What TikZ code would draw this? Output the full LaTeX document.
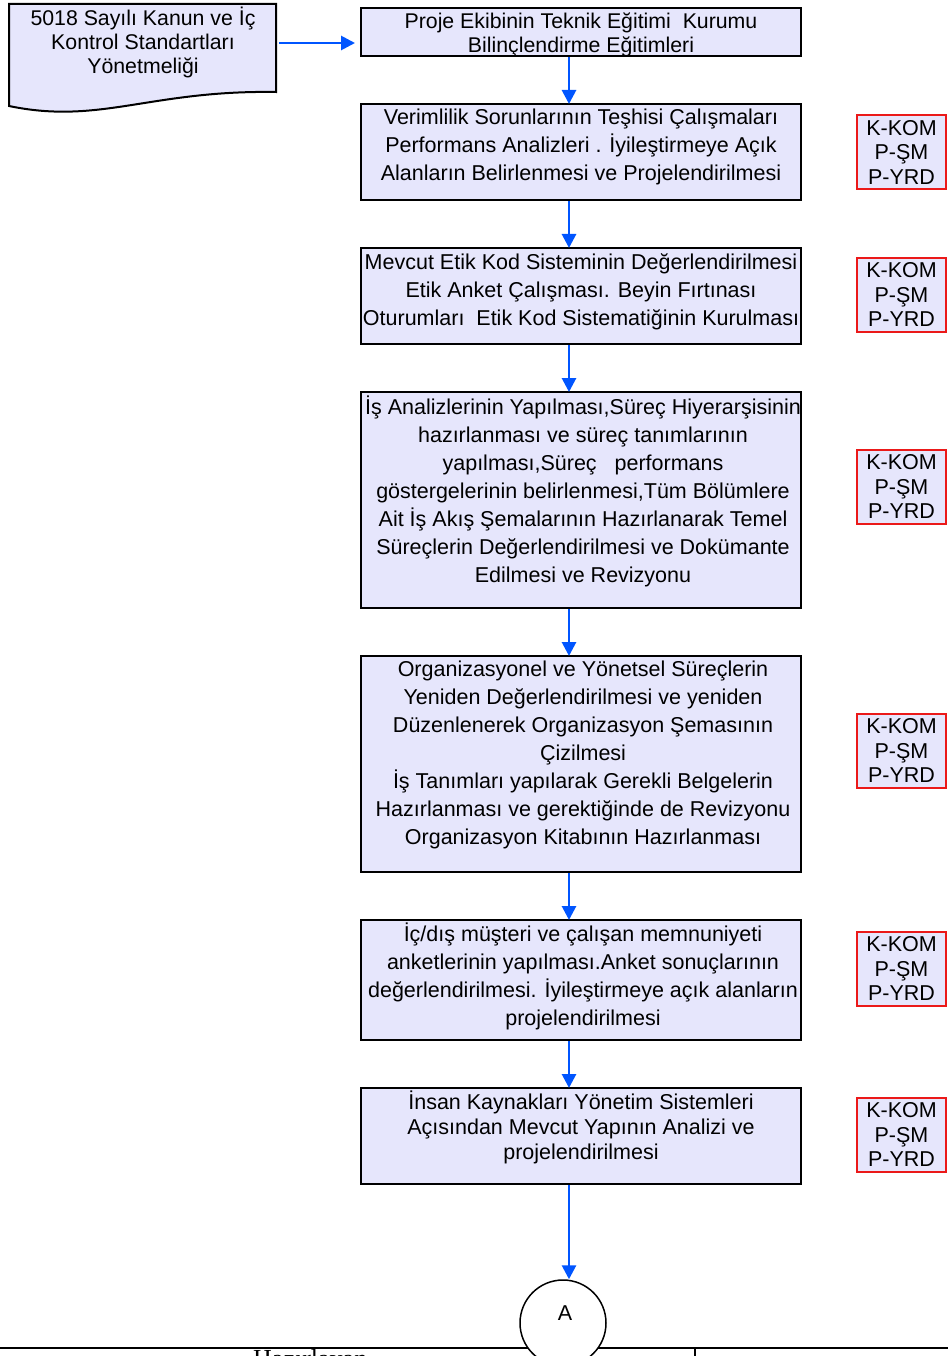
\documentclass[tikz,border=0pt]{standalone}
\usepackage{fontspec}
\setmainfont{Liberation Sans}
\newfontfamily\seriffont{Liberation Serif}
\usetikzlibrary{arrows.meta}
\definecolor{boxfill}{RGB}{230,230,252}
\definecolor{arrowblue}{RGB}{0,85,255}
\definecolor{tagred}{RGB}{235,25,25}
\begin{document}
\begin{tikzpicture}[x=1pt,y=-1pt,
 box/.style={draw=black,line width=2pt,fill=boxfill,minimum width=440pt,inner sep=0pt},
 txt/.style={align=center,font=\fontsize{21.5}{28}\selectfont,inner sep=0pt},
 tag/.style={draw=tagred,line width=2pt,fill=boxfill,minimum width=89pt,minimum height=74pt,inner sep=0pt,align=center,font=\fontsize{21.5}{24.5}\selectfont},
 flow/.style={draw=arrowblue,line width=2.8pt,-{Triangle[width=14pt,length=14pt]}}]
\useasboundingbox (0,0) rectangle (948,1356);
\coordinate (ax) at (569,0);
% document shape
\path[draw=black,line width=2pt,fill=boxfill] (9,4) -- (276,4) -- (276,92) .. controls (150,90) and (100,125) .. (9,106) -- cycle;
\node[txt,font=\fontsize{21.3}{24}\selectfont] (doc) at (143,42.5) {5018 Sayılı Kanun ve İç\\Kontrol Standartları\\Yönetmeliği};
\coordinate (docout) at (279,43);
% process boxes
\node[box,minimum height=48pt] (b1) at (581,32) {};
\node[box,minimum height=96pt] (b2) at (581,152) {};
\node[box,minimum height=96pt] (b3) at (581,296) {};
\node[box,minimum height=216pt] (b4) at (581,500) {};
\node[box,minimum height=216pt] (b5) at (581,764) {};
\node[box,minimum height=120pt] (b6) at (581,980) {};
\node[box,minimum height=96pt] (b7) at (581,1136) {};
\node[txt,font=\fontsize{21.3}{24}\selectfont] (t1) at (581,35) {Proje Ekibinin Teknik Eğitimi\ \ Kurumu\\Bilinçlendirme Eğitimleri};
\node[txt] (t2) at (581,147) {Verimlilik Sorunlarının Teşhisi Çalışmaları\\Performans Analizleri . İyileştirmeye Açık\\Alanların Belirlenmesi ve Projelendirilmesi};
\node[txt] (t3) at (581,291.5) {Mevcut Etik Kod Sisteminin Değerlendirilmesi\\Etik Anket Çalışması. Beyin Fırtınası\\Oturumları\ \ Etik Kod Sistematiğinin Kurulması};
\node[txt] (t4) at (583,491) {İş Analizlerinin Yapılması,Süreç Hiyerarşisinin\\hazırlanması ve süreç tanımlarının\\yapılması,Süreç\ \ \ performans\\göstergelerinin belirlenmesi,Tüm Bölümlere\\Ait İş Akış Şemalarının Hazırlanarak Temel\\Süreçlerin Değerlendirilmesi ve Dokümante\\Edilmesi ve Revizyonu};
\node[txt] (t5) at (583,755) {Organizasyonel ve Yönetsel Süreçlerin\\Yeniden Değerlendirilmesi ve yeniden\\Düzenlenerek Organizasyon Şemasının\\Çizilmesi\\İş Tanımları yapılarak Gerekli Belgelerin\\Hazırlanması ve gerektiğinde de Revizyonu\\Organizasyon Kitabının Hazırlanması};
\node[txt] (t6) at (583,976.5) {İç/dış müşteri ve çalışan memnuniyeti\\anketlerinin yapılması.Anket sonuçlarının\\değerlendirilmesi. İyileştirmeye açık alanların\\projelendirilmesi};
\node[txt,font=\fontsize{21.5}{25}\selectfont] (t7) at (581,1127) {İnsan Kaynakları Yönetim Sistemleri\\Açısından Mevcut Yapının Analizi ve\\projelendirilmesi};
% responsibility tags
\node[tag] (k1) at (901.5,152) {K-KOM\\P-ŞM\\P-YRD};
\node[tag] (k2) at (901.5,294.5) {K-KOM\\P-ŞM\\P-YRD};
\node[tag] (k3) at (901.5,486.5) {K-KOM\\P-ŞM\\P-YRD};
\node[tag] (k4) at (901.5,750.5) {K-KOM\\P-ŞM\\P-YRD};
\node[tag] (k5) at (901.5,968.5) {K-KOM\\P-ŞM\\P-YRD};
\node[tag] (k6) at (901.5,1134.5) {K-KOM\\P-ŞM\\P-YRD};
% bottom frame
\draw[line width=2.5pt] (0,1348) -- (948,1348);
\draw[line width=1.5pt] (695,1348) -- (695,1362);
\node[anchor=base west,inner sep=0pt,font=\seriffont\fontsize{26}{28}\selectfont] (hz) at (253,1367) {Hazırlayan};
% connector A
\node[circle,draw=black,line width=1.5pt,fill=white,minimum size=86pt,inner sep=0pt] (A) at (563,1323) {};
\node[txt] (Atxt) at (565,1313) {A};
% flows
\draw[flow] (docout) -- ([xshift=-5pt]b1.west |- docout);
\draw[flow] (b1.south -| ax) -- ([yshift=-1pt]b2.north -| ax);
\draw[flow] (b2.south -| ax) -- ([yshift=-1pt]b3.north -| ax);
\draw[flow] (b3.south -| ax) -- ([yshift=-1pt]b4.north -| ax);
\draw[flow] (b4.south -| ax) -- ([yshift=-1pt]b5.north -| ax);
\draw[flow] (b5.south -| ax) -- ([yshift=-1pt]b6.north -| ax);
\draw[flow] (b6.south -| ax) -- ([yshift=-1pt]b7.north -| ax);
\draw[flow] (b7.south -| ax) -- (A.north -| ax);
\end{tikzpicture}
\end{document}
